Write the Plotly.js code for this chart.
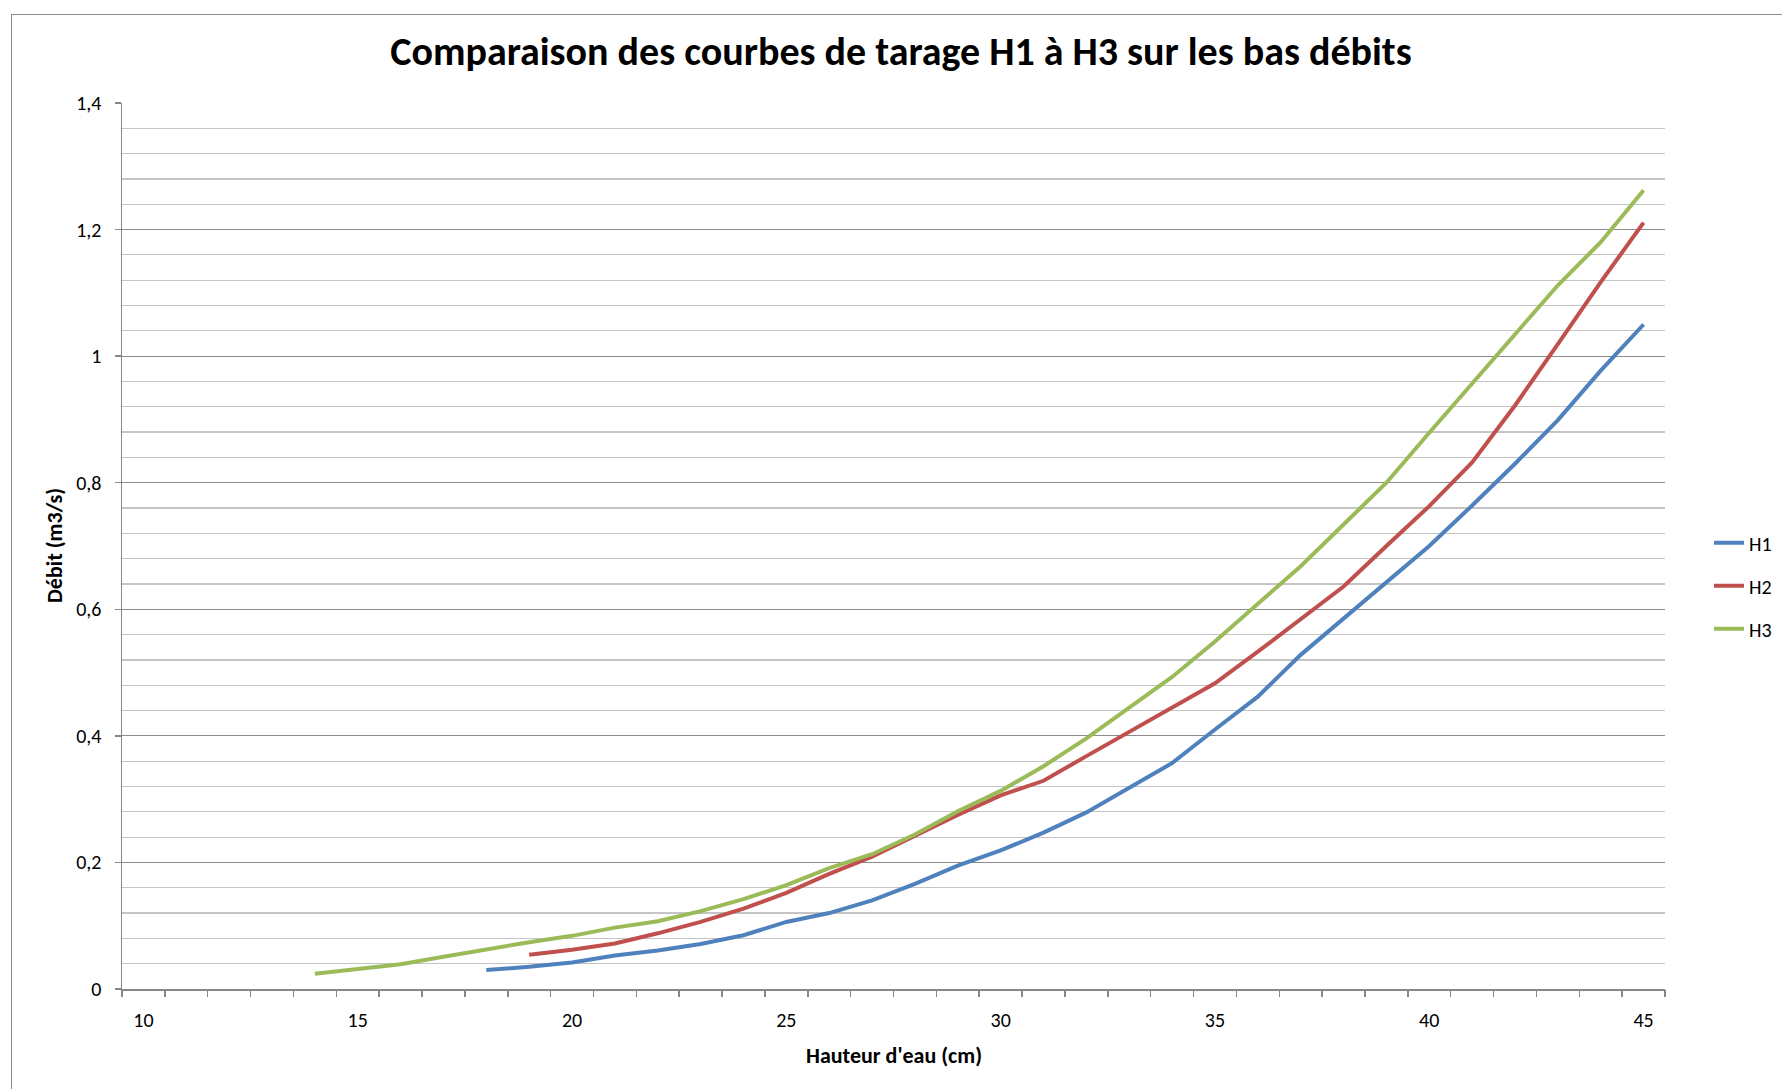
<!DOCTYPE html>
<html>
<head>
<meta charset="utf-8">
<script src="https://cdn.plot.ly/plotly-3.0.1.min.js"></script>
<style>
  html, body { margin: 0; padding: 0; background: #ffffff; }
  #wrap { position: relative; width: 1782px; height: 1089px; }
  #chart { position: absolute; left: 0; top: 0; width: 1782px; height: 1089px; }
  #frame { position: absolute; left: 11px; top: 14px; width: 1782px; height: 1089px;
           border-left: 1.5px solid #8c8c8c; border-top: 1.5px solid #8c8c8c; pointer-events: none; }
</style>
</head>
<body>
<div id="wrap"><div id="chart"></div><div id="frame"></div></div>
<script>
// Water height (cm) categories
const hauteurs = [10,11,12,13,14,15,16,17,18,19,20,21,22,23,24,25,26,27,28,29,30,31,32,33,34,35,36,37,38,39,40,41,42,43,44,45];

// Discharge (m3/s) per rating curve, null where no value
const H1 = [null,null,null,null,null,null,null,null,
  0.030,0.035,0.042,0.053,0.061,0.071,0.085,0.106,0.120,0.140,0.166,0.195,0.219,0.247,0.279,0.318,0.357,0.410,0.462,0.528,0.586,0.643,0.700,0.764,0.830,0.899,0.977,1.050];
const H2 = [null,null,null,null,null,null,null,null,null,
  0.054,0.062,0.072,0.088,0.106,0.127,0.152,0.182,0.209,0.242,0.275,0.306,0.329,0.368,0.406,0.445,0.483,0.533,0.585,0.636,0.700,0.763,0.832,0.922,1.019,1.117,1.211];
const H3 = [null,null,null,null,
  0.024,0.032,0.039,0.051,0.063,0.074,0.084,0.097,0.107,0.123,0.142,0.164,0.191,0.213,0.244,0.281,0.313,0.352,0.396,0.444,0.493,0.549,0.608,0.668,0.734,0.800,0.879,0.956,1.035,1.112,1.180,1.262];

const seriesNames = ['H1','H2','H3'];
const seriesColors = ['#4F81BD','#C0504D','#9BBB59'];

// Tick labels
const xTickVals = [10,15,20,25,30,35,40,45];
const xTickText = ['10','15','20','25','30','35','40','45'];
const yTickVals = [0,0.2,0.4,0.6,0.8,1,1.2,1.4];
const yTickText = ['0','0,2','0,4','0,6','0,8','1','1,2','1,4'];

const titleText = 'Comparaison des courbes de tarage H1 à H3 sur les bas débits';
const xTitle = "Hauteur d'eau (cm)";
const yTitle = 'Débit (m3/s)';

const FONT = 'Carlito, Lato, "Liberation Sans Narrow", sans-serif';

// category boundaries for tick marks
const xBounds = [];
for (let i = 0; i <= hauteurs.length; i++) xBounds.push(hauteurs[0] - 0.5 + i);

const data = [H1, H2, H3].map((ys, i) => ({
  type: 'scatter', mode: 'lines',
  x: hauteurs, y: ys, name: seriesNames[i],
  legendgroup: seriesNames[i],
  line: { color: seriesColors[i], width: 4 },
  connectgaps: false,
  hoverinfo: 'x+y'
}));
// invisible helper trace to activate the tick-mark axis
data.push({ type: 'scatter', mode: 'lines', x: [hauteurs[0]], y: [null], xaxis: 'x2', showlegend: false, hoverinfo: 'skip' });

const xRange = [hauteurs[0] - 0.5, hauteurs[hauteurs.length - 1] + 0.5];

const layout = {
  width: 1782, height: 1089,
  paper_bgcolor: 'rgba(0,0,0,0)', plot_bgcolor: 'rgba(0,0,0,0)',
  margin: { l: 122, r: 117, t: 103, b: 100, autoexpand: false },
  font: { family: FONT, color: '#000000', size: 20 },
  title: {
    text: '<b>' + titleText + '</b>',
    font: { family: FONT, size: 40, color: '#000000' },
    xref: 'container', yref: 'container', x: 0.5056, y: 0.953, xanchor: 'center', yanchor: 'middle'
  },
  xaxis: {
    range: xRange, tickmode: 'array', tickvals: xTickVals, ticktext: xTickText,
    ticks: '', showgrid: false, zeroline: false,
    showline: true, linecolor: '#868686', linewidth: 1.5,
    tickfont: { family: FONT, size: 20, color: '#000' },
    ticklabelstandoff: 12
  },
  xaxis2: {
    overlaying: 'x', anchor: 'y', side: 'bottom', range: xRange,
    tickmode: 'array', tickvals: xBounds, ticks: 'outside', ticklen: 7, tickcolor: '#868686', tickwidth: 1.5,
    showticklabels: false, showgrid: false, zeroline: false, showline: false
  },
  yaxis: {
    range: [0, 1.4], tickmode: 'array', tickvals: yTickVals, ticktext: yTickText,
    ticks: 'outside', ticklen: 6, tickcolor: '#868686', tickwidth: 1.5,
    showgrid: true, gridcolor: '#8c8c8c', gridwidth: 1.2,
    minor: { dtick: 0.04, tick0: 0, showgrid: true, gridcolor: '#c4c4c4', gridwidth: 1.2, ticks: '' },
    zeroline: false, showline: true, linecolor: '#868686', linewidth: 1.5,
    tickfont: { family: FONT, size: 20, color: '#000' },
    ticklabelstandoff: 9
  },
  showlegend: true,
  legend: {
    x: 1.0285, xanchor: 'left', y: 0.455, yanchor: 'middle',
    font: { family: FONT, size: 20, color: '#000' },
    traceorder: 'grouped', tracegroupgap: 14, bgcolor: 'rgba(0,0,0,0)'
  },
  annotations: [
    { text: '<b>' + xTitle + '</b>', xref: 'paper', yref: 'paper', x: 0.5, y: 0, yanchor: 'middle', xanchor: 'center',
      yshift: -66, showarrow: false, font: { family: FONT, size: 22, color: '#000' } },
    { text: '<b>' + yTitle + '</b>', xref: 'paper', yref: 'paper', x: 0, y: 0.5, xanchor: 'center', yanchor: 'middle',
      xshift: -68, textangle: -90, showarrow: false, font: { family: FONT, size: 22, color: '#000' } }
  ]
};

Plotly.newPlot('chart', data, layout, { displayModeBar: false, staticPlot: true });
</script>
</body>
</html>
